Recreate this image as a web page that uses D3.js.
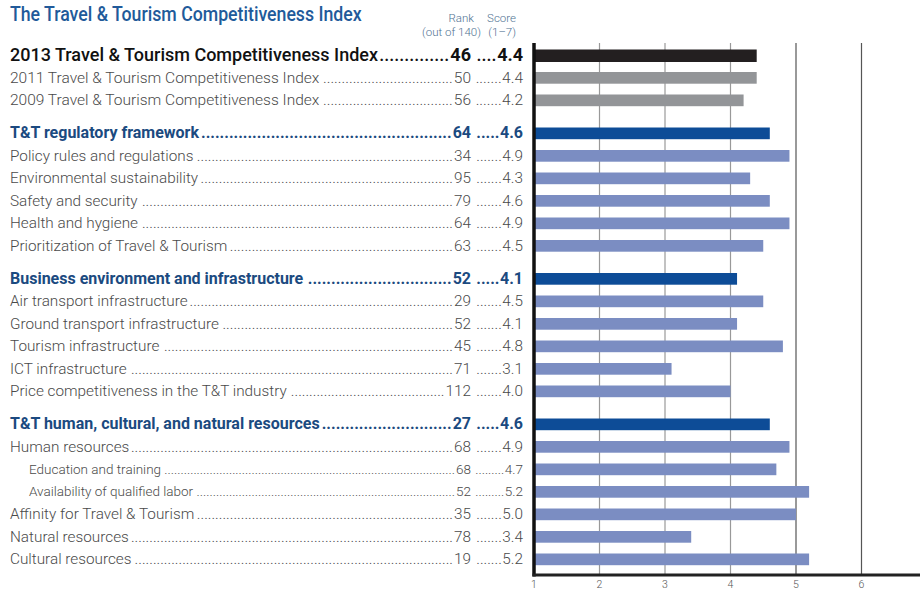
<!DOCTYPE html>
<html>
<head>
<meta charset="utf-8">
<script src="https://cdn.jsdelivr.net/npm/d3@7"></script>
<style>
  body { margin: 0; background: #fff; }
  svg { display: block; }
</style>
</head>
<body>
<div id="chart"></div>
<script>
// rows of the profile, top to bottom
const labels = [
  "2013 Travel & Tourism Competitiveness Index",
  "2011 Travel & Tourism Competitiveness Index",
  "2009 Travel & Tourism Competitiveness Index",
  "T&T regulatory framework",
  "Policy rules and regulations",
  "Environmental sustainability",
  "Safety and security",
  "Health and hygiene",
  "Prioritization of Travel & Tourism",
  "Business environment and infrastructure",
  "Air transport infrastructure",
  "Ground transport infrastructure",
  "Tourism infrastructure",
  "ICT infrastructure",
  "Price competitiveness in the T&T industry",
  "T&T human, cultural, and natural resources",
  "Human resources",
  "Education and training",
  "Availability of qualified labor",
  "Affinity for Travel & Tourism",
  "Natural resources",
  "Cultural resources"
]
const ranks  = [46, 50, 56, 64, 34, 95, 79, 64, 63, 52, 29, 52, 45, 71, 112, 27, 68, 68, 52, 35, 78, 19]
const scores = [4.4, 4.4, 4.2, 4.6, 4.9, 4.3, 4.6, 4.9, 4.5, 4.1, 4.5, 4.1, 4.8, 3.1, 4.0, 4.6, 4.9, 4.7, 5.2, 5.0, 3.4, 5.2]
const kinds  = ["overall", "past", "past", "pillar", "sub", "sub", "sub", "sub", "sub",
                "pillar", "sub", "sub", "sub", "sub", "sub",
                "pillar", "sub", "subsub", "subsub", "sub", "sub", "sub"]
const groups = [0, 0, 0, 1, 1, 1, 1, 1, 1, 2, 2, 2, 2, 2, 2, 3, 3, 3, 3, 3, 3, 3]
const xTicks = [1, 2, 3, 4, 5, 6]

const width = 920, height = 591
const gapSlots = 0.467

let rows = labels.map((l, i) => ({
  label: l, rank: ranks[i], score: scores[i], kind: kinds[i],
  slot: i + groups[i] * gapSlots
}))

let x = d3.scaleLinear().domain([1, 7]).range([534, 927])
let y = d3.scaleLinear()
          .domain([0, 21 + 3 * gapSlots])
          .range([55.5, 559.5])

const barColor = {overall: "#231f20", past: "#939598", pillar: "#0d4c97", sub: "#7b8dc2", subsub: "#7b8dc2"}
const style = {
  overall: {size: 18, weight: 500, numWeight: 700, fill: "#111", x: 10},
  past:    {size: 15.5, weight: 300, numWeight: 300, fill: "#4a4a4a", x: 10},
  pillar:  {size: 16, weight: 700, numWeight: 700, fill: "#1b4a80", x: 10},
  sub:     {size: 15.3, weight: 300, numWeight: 300, fill: "#4a4a4a", x: 10},
  subsub:  {size: 13.5, weight: 300, numWeight: 300, fill: "#4a4a4a", x: 29}
}
const rankX = 471, scoreX = 523
const fmt = d3.format(".1f")

let svg = d3.select("#chart").append("svg")
            .attr("width", width)
            .attr("height", height)
            .style("font-family", "Roboto, 'Liberation Sans', sans-serif")

// title, squeezed to a condensed look
let title = svg.append("text")
    .attr("font-size", 20)
    .attr("font-weight", 500)
    .attr("fill", "#215a9a")
    .text("The Travel & Tourism Competitiveness Index")
let tw = title.node().getComputedTextLength()
title.attr("transform", `translate(10,21) scale(${352 / tw},1)`)

let head = svg.append("g").attr("font-size", 11.5).attr("fill", "#4f7292").attr("font-weight", 300)
head.append("text").attr("x", 474).attr("y", 22).attr("text-anchor", "end").text("Rank")
head.append("text").attr("x", 481).attr("y", 36).attr("text-anchor", "end").text("(out of 140)")
head.append("text").attr("x", 516).attr("y", 22).attr("text-anchor", "end").text("Score")
head.append("text").attr("x", 516).attr("y", 36).attr("text-anchor", "end").text("(1\u20137)")

// grid
svg.append("g")
    .selectAll("line")
    .data(xTicks.slice(1))
    .enter().append("line")
    .attr("x1", d => x(d)).attr("x2", d => x(d))
    .attr("y1", 43).attr("y2", 575)
    .attr("stroke", d => d >= 5 ? "#555" : "#999")
    .attr("stroke-width", 1.2)

// bars
svg.append("g")
    .selectAll("rect")
    .data(rows)
    .enter().append("rect")
    .attr("x", x(1))
    .attr("y", d => y(d.slot) - 6)
    .attr("height", d => d.kind == "overall" ? 12.5 : 11.7)
    .attr("width", d => x(d.score) - x(1))
    .attr("fill", d => barColor[d.kind])

// axes lines
svg.append("line").attr("x1", 534).attr("x2", 534).attr("y1", 43).attr("y2", 576.5)
    .attr("stroke", "#111").attr("stroke-width", 3.5)
svg.append("line").attr("x1", 532.5).attr("x2", width).attr("y1", 575).attr("y2", 575)
    .attr("stroke", "#222").attr("stroke-width", 3)

svg.append("g")
    .selectAll("text")
    .data(xTicks)
    .enter().append("text")
    .attr("x", d => x(d))
    .attr("y", 588)
    .attr("text-anchor", "middle")
    .attr("font-size", 10.5)
    .attr("font-weight", 300)
    .attr("fill", "#555")
    .text(d => d)

// table text with dot leaders
let rowG = svg.append("g")
    .selectAll("g")
    .data(rows)
    .enter().append("g")
    .attr("transform", d => `translate(0,${y(d.slot) + style[d.kind].size * 0.31})`)

rowG.each(function(d) {
  let s = style[d.kind]
  let g = d3.select(this)
          .attr("font-size", s.size)
          .attr("fill", s.fill)

  let lab = g.append("text").attr("x", s.x).attr("font-weight", s.weight).text(d.label)
  let rk = g.append("text").attr("x", rankX).attr("text-anchor", "end")
            .attr("font-weight", s.numWeight).text(d.rank)
  let sc = g.append("text").attr("x", scoreX).attr("text-anchor", "end")
            .attr("font-weight", s.numWeight).text(fmt(d.score))

  let probe = g.append("text").attr("font-weight", s.weight).text("..........")
  let dotW = probe.node().getComputedTextLength() / 10
  probe.remove()

  let labEnd = s.x + lab.node().getComputedTextLength() + 1
  let rkStart = rankX - rk.node().getComputedTextLength() - 1
  let n1 = Math.floor((rkStart - labEnd) / dotW)
  g.append("text").attr("x", rkStart).attr("text-anchor", "end")
      .attr("font-weight", s.weight).text(".".repeat(Math.max(0, n1)))

  let scStart = scoreX - sc.node().getComputedTextLength() - 0.5
  let n2 = Math.floor((scStart - rankX - 3) / dotW)
  g.append("text").attr("x", scStart).attr("text-anchor", "end")
      .attr("font-weight", s.weight).text(".".repeat(Math.max(0, n2)))
})
</script>
</body>
</html>
